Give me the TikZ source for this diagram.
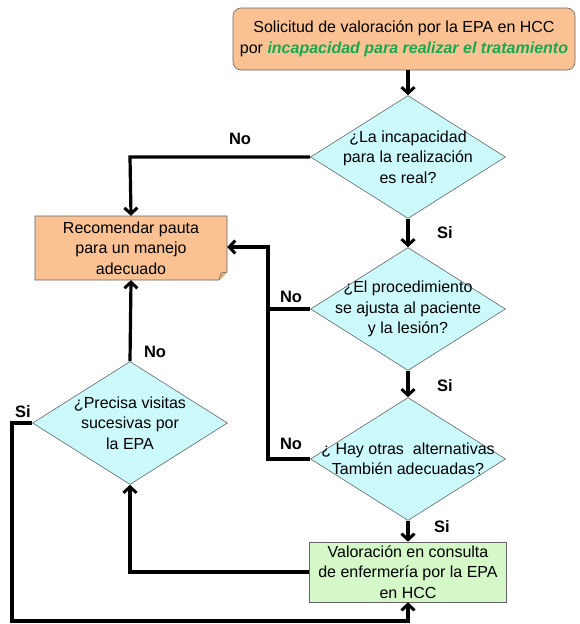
\documentclass[tikz,border=0pt]{standalone}
\usepackage{fontspec}
\setmainfont{Liberation Sans}
\usetikzlibrary{arrows.meta,shapes.geometric}
\definecolor{orangefill}{RGB}{250,194,146}
\definecolor{cyanfill}{RGB}{204,250,252}
\definecolor{greenfill}{RGB}{212,248,200}
\definecolor{greentext}{RGB}{20,170,80}
\definecolor{edgegrey}{RGB}{100,100,100}
\tikzset{
  txt/.style={font=\fontsize{16}{20.5}\selectfont, align=center},
  decision/.style={diamond, draw=edgegrey, fill=cyanfill, line width=0.6pt, inner sep=0pt, minimum width=195pt, minimum height=123pt},
  startbox/.style={rectangle, rounded corners=8pt, draw=edgegrey, fill=orangefill, line width=0.6pt, minimum width=342pt, minimum height=62pt, inner xsep=0pt, txt},
  actbox/.style={rectangle, draw=edgegrey, fill=greenfill, line width=0.6pt, minimum width=197pt, minimum height=60pt, inner sep=0pt, txt},
  flow/.style={line width=3.2pt, -{Straight Barb[length=6pt,width=13pt,line width=3pt]}},
  plain/.style={line width=3.2pt},
  lbl/.style={font=\bfseries\fontsize{16.5}{18}\selectfont}
}
\begin{document}
\begin{tikzpicture}[x=1pt,y=-1pt]
\useasboundingbox (0,0) rectangle (579,624);
% start box
\node[startbox] (start) at (404,39) {Solicitud de valoración por la EPA en HCC\\por {\color{greentext}\bfseries\itshape incapacidad para realizar el tratamiento}};
% decisions
\node[decision, label={[txt]center:¿La incapacidad\\para la realización\\es real?}] (d1) at (408,157) {};
\node[decision, label={[txt]center:¿El procedimiento\\se ajusta al paciente\\y la lesión?}] (d2) at (408,309) {};
\node[decision, label={[txt]center:¿ Hay otras\ \ alternativas\\También adecuadas?}] (d3) at (408,459) {};
\node[decision, label={[txt]center:¿Precisa visitas\\sucesivas por\\la EPA}] (d4) at (130,423) {};
% action box
\node[actbox] (val) at (408,572) {Valoración en consulta\\de enfermería por la EPA\\en HCC};
% recommend box with folded corner
\fill[orangefill] (35,216) -- (227,216) -- (227,272) -- (219,280) -- (35,280) -- cycle;
\draw[edgegrey, line width=0.6pt] (35,216) -- (227,216) -- (227,272) -- (219,280) -- (35,280) -- cycle;
\fill[orangefill!70!brown] (227,272) -- (219,280) -- (221,273) -- cycle;
\draw[edgegrey, line width=0.5pt] (227,272) -- (221,273) -- (219,280);
\node[txt, minimum width=192pt, minimum height=64pt, inner sep=0pt] (rec) at (131,248) {Recomendar pauta\\para un manejo\\adecuado};
% junction coordinates
\coordinate (j1) at (130,157);
\coordinate (j2) at (268,247);
\coordinate (j3) at (268,459);
\coordinate (j4) at (130,572);
\coordinate (j5) at (12,423);
\coordinate (j6) at (12,621);
\coordinate (j7) at (408,621);
% connectors
\draw[flow] (d1.north |- start.south) -- (d1.north);
\draw[flow] (d1.south) -- (d2.north);
\draw[flow] (d2.south) -- (d3.north);
\draw[flow] (d3.south) -- (val.north);
\draw[flow] (d1.west) -- (j1) -- (rec.north);
\draw[plain] (d2.west) -- (d2.west -| j2);
\draw[flow] (d3.west) -- (j3) -- (j2) -- (rec.east |- j2);
\draw[flow] (d4.north) -- (rec.south);
\draw[flow] (val.west) -- (j4) -- (d4.south);
\draw[flow] (d4.west) -- (j5) -- (j6) -- (j7) -- (val.south);
% labels
\node[lbl] (l1) at (240,139) {No};
\node[lbl] (l2) at (445,233) {Si};
\node[lbl] (l3) at (291,297) {No};
\node[lbl] (l4) at (445,386) {Si};
\node[lbl] (l5) at (291,444) {No};
\node[lbl] (l6) at (442,527) {Si};
\node[lbl] (l7) at (155,352) {No};
\node[lbl] (l8) at (23,412) {Si};
\end{tikzpicture}
\end{document}
